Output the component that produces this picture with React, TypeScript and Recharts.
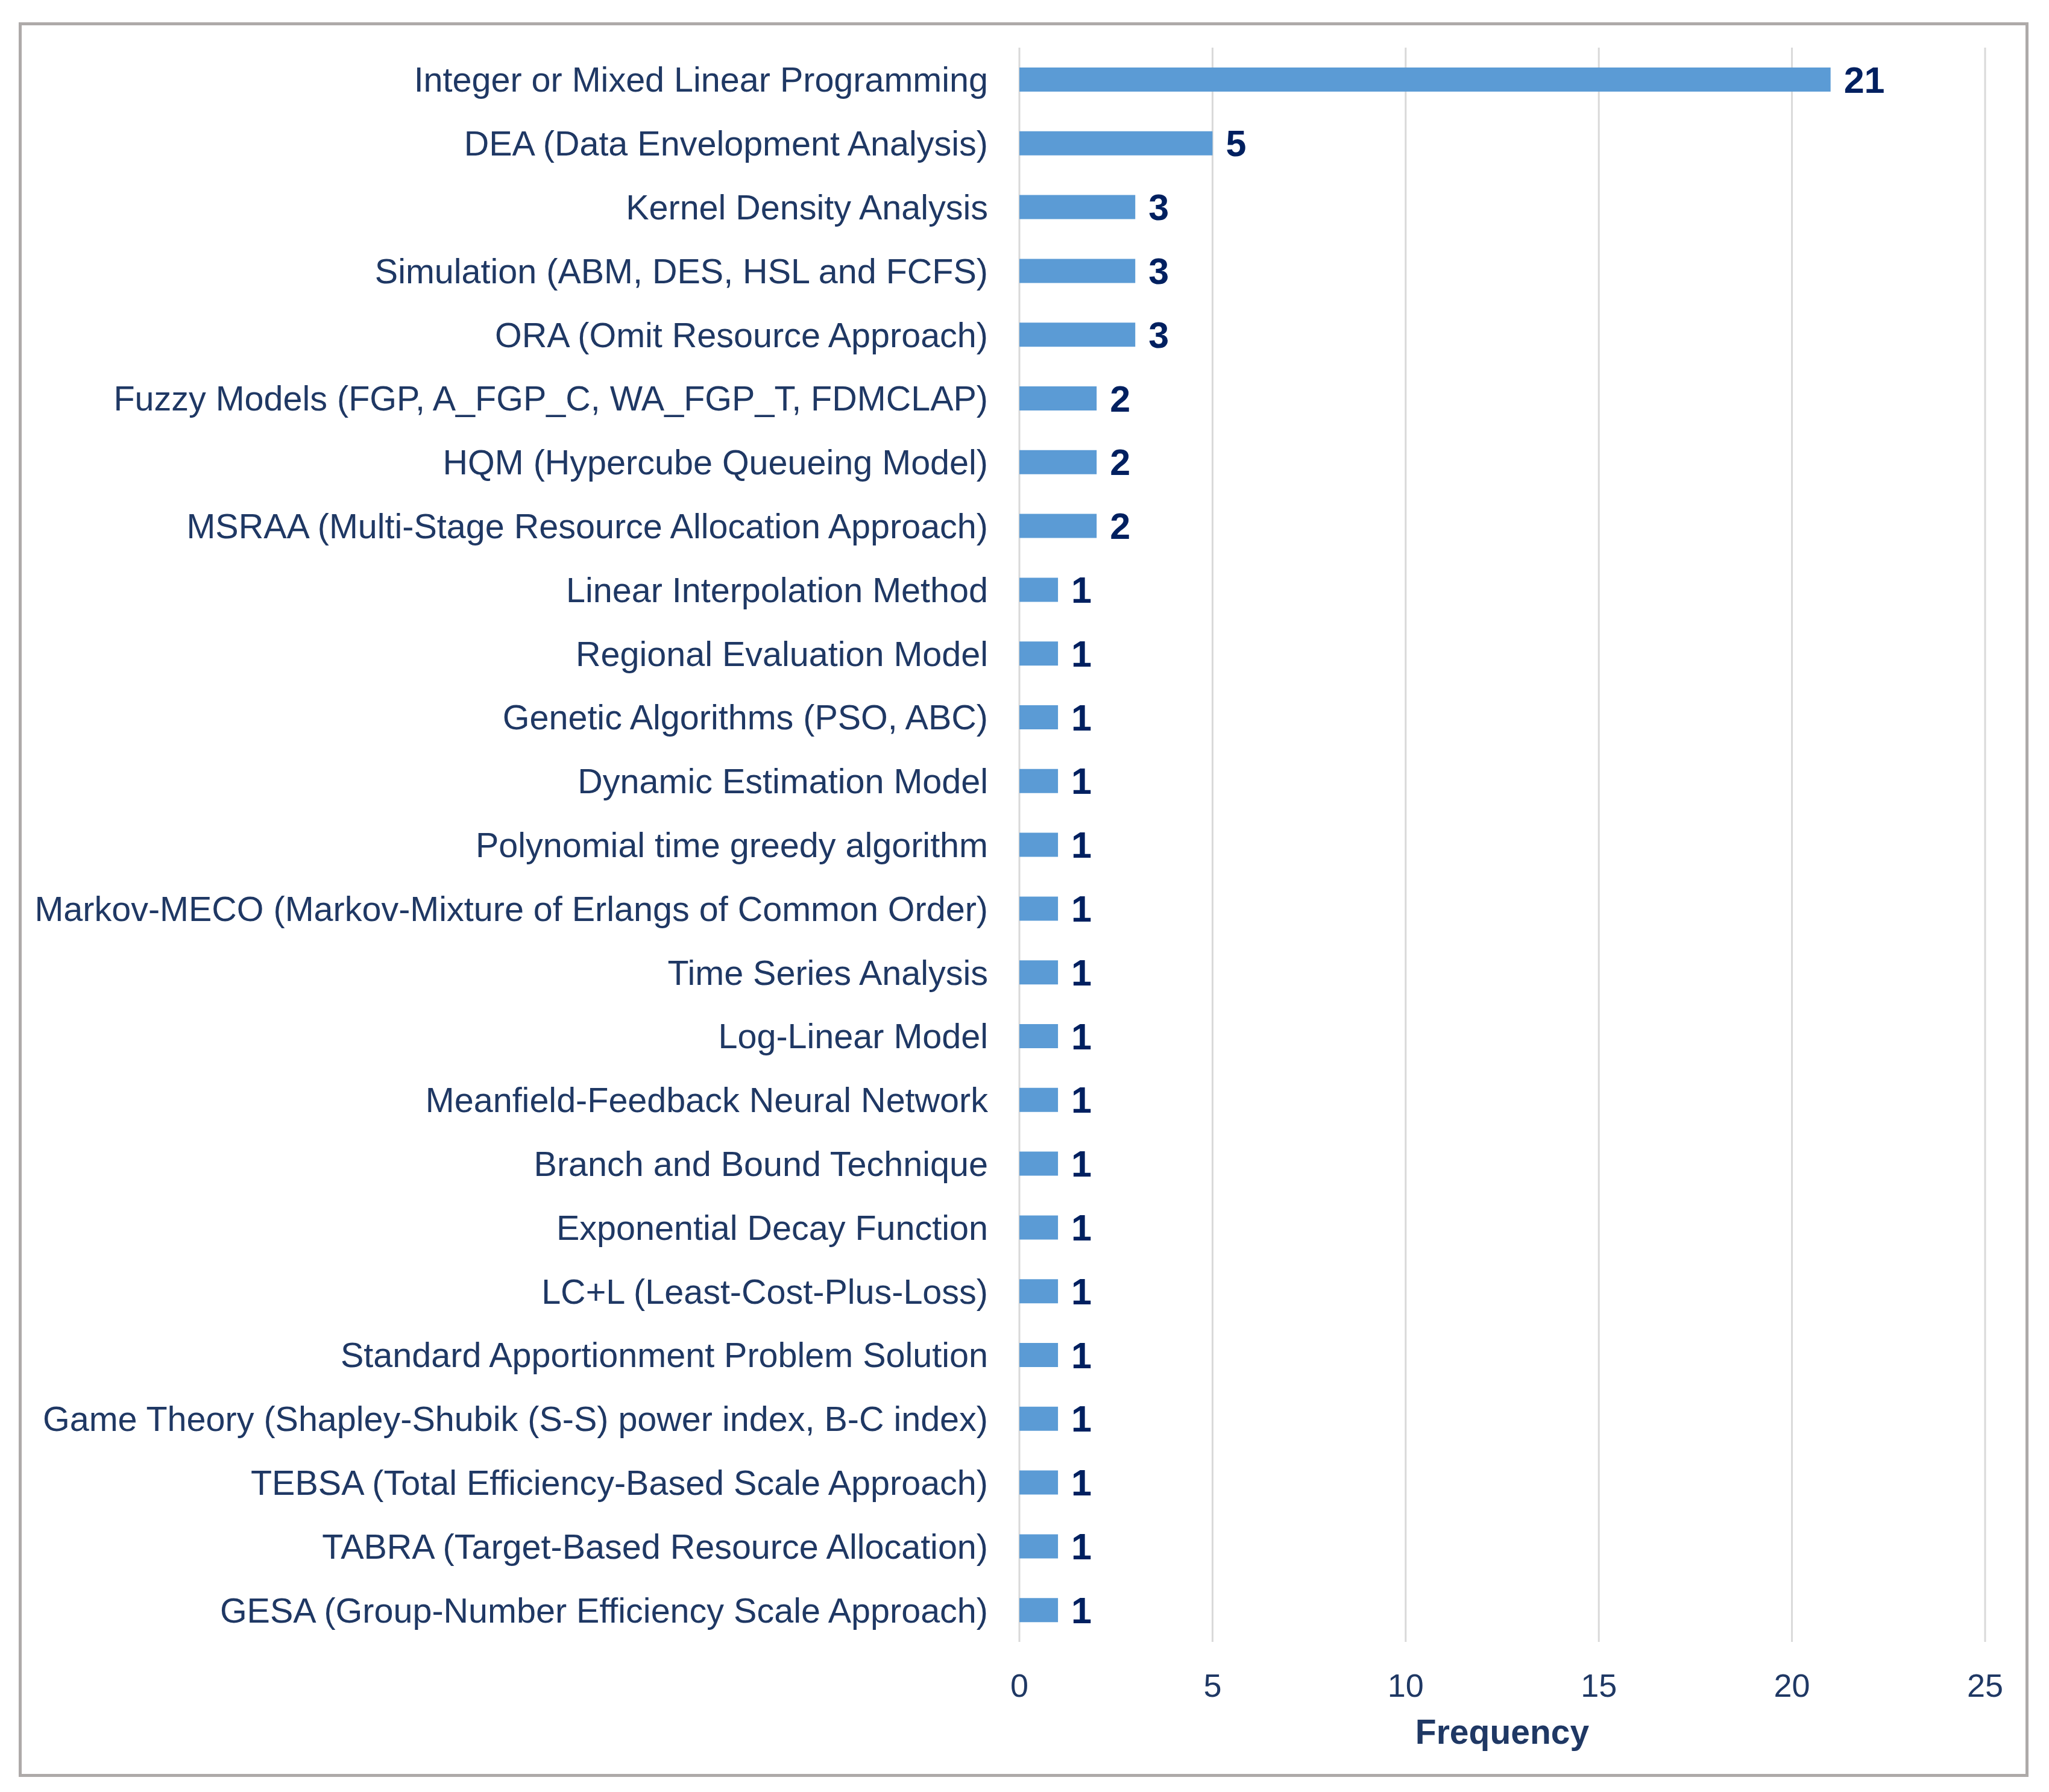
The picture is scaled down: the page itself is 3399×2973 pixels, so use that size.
import React from 'react';
import { BarChart, Bar, XAxis, YAxis, CartesianGrid, LabelList } from 'recharts';

const methods = [
  'Integer or Mixed Linear Programming',
  'DEA (Data Envelopment Analysis)',
  'Kernel Density Analysis',
  'Simulation (ABM, DES, HSL and FCFS)',
  'ORA (Omit Resource Approach)',
  'Fuzzy Models (FGP, A_FGP_C, WA_FGP_T, FDMCLAP)',
  'HQM (Hypercube Queueing Model)',
  'MSRAA (Multi-Stage Resource Allocation Approach)',
  'Linear Interpolation Method',
  'Regional Evaluation Model',
  'Genetic Algorithms (PSO, ABC)',
  'Dynamic Estimation Model',
  'Polynomial time greedy algorithm',
  'Markov-MECO (Markov-Mixture of Erlangs of Common Order)',
  'Time Series Analysis',
  'Log-Linear Model',
  'Meanfield-Feedback Neural Network',
  'Branch and Bound Technique',
  'Exponential Decay Function',
  'LC+L (Least-Cost-Plus-Loss)',
  'Standard Apportionment Problem Solution',
  'Game Theory (Shapley-Shubik (S-S) power index, B-C index)',
  'TEBSA (Total Efficiency-Based Scale Approach)',
  'TABRA (Target-Based Resource Allocation)',
  'GESA (Group-Number Efficiency Scale Approach)',
];

const frequency = [21, 5, 3, 3, 3, 2, 2, 2, 1, 1, 1, 1, 1, 1, 1, 1, 1, 1, 1, 1, 1, 1, 1, 1, 1];

const xTicks = [0, 5, 10, 15, 20, 25];

const data = methods.map((name, i) => ({ name, value: frequency[i] }));

const textColor = '#1f3864';
const font = '"Liberation Sans", Arial, sans-serif';

export default function App() {
  return (
    <div style={{ position: 'relative', width: 3399, height: 2973, margin: -8, background: '#fff' }}>
      <div
        style={{
          position: 'absolute',
          left: 31,
          top: 37,
          width: 3324,
          height: 2901,
          border: '5px solid #aeaaa9',
        }}
      />
      <div style={{ position: 'absolute', left: 0, top: 0 }}>
        <BarChart
          width={3399}
          height={2973}
          data={data}
          layout="vertical"
          margin={{ top: 79, right: 106, bottom: 49, left: 0 }}
        >
          <CartesianGrid horizontal={false} stroke="#d9d9d9" strokeWidth={3} />
          <XAxis
            type="number"
            domain={[0, 25]}
            ticks={xTicks}
            axisLine={false}
            tickLine={false}
            height={200}
            tickMargin={47}
            tick={{ fill: textColor, fontSize: 54, fontFamily: font }}
            label={{
              value: 'Frequency',
              position: 'insideBottom',
              offset: 31,
              fill: textColor,
              fontSize: 57,
              fontWeight: 'bold',
              fontFamily: font,
            }}
          />
          <YAxis
            type="category"
            dataKey="name"
            width={1691}
            axisLine={false}
            tickLine={false}
            tickMargin={46}
            interval={0}
            tick={{ fill: textColor, fontSize: 57.5, fontFamily: font }}
          />
          <Bar dataKey="value" fill="#5b9bd5" barSize={40} isAnimationActive={false}>
            <LabelList
              dataKey="value"
              position="right"
              offset={22}
              fill="#002060"
              fontSize={61}
              fontWeight="bold"
              fontFamily={font}
            />
          </Bar>
        </BarChart>
      </div>
    </div>
  );
}
